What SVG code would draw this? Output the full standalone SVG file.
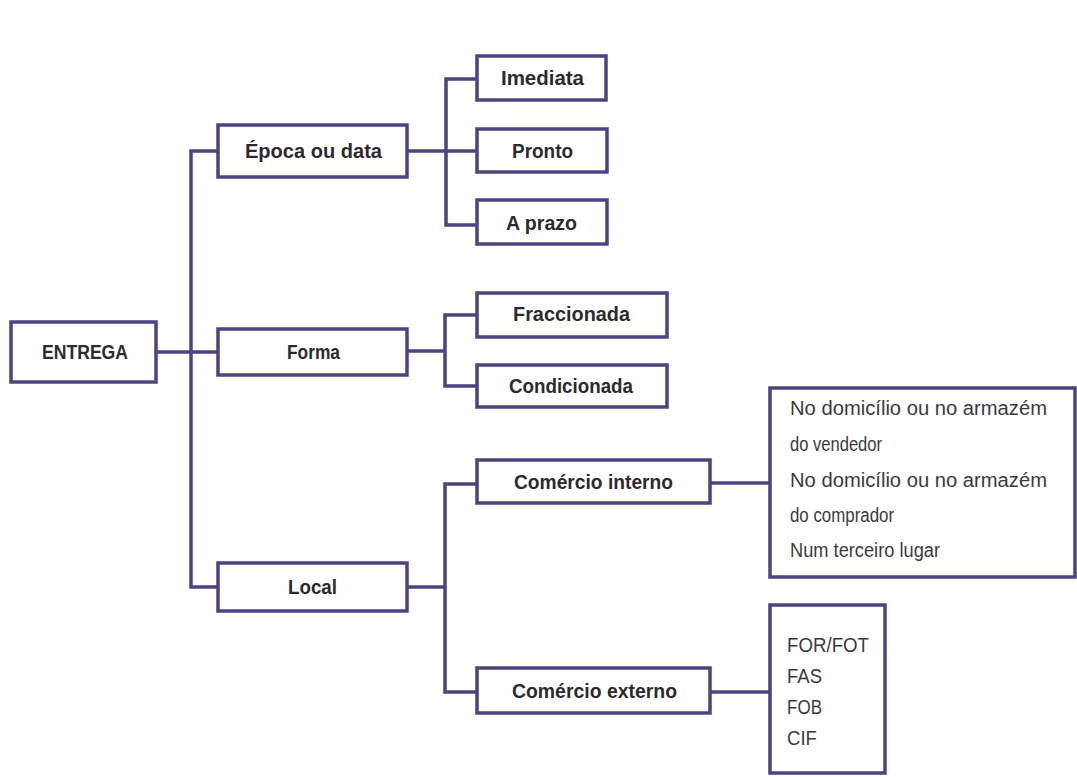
<svg xmlns="http://www.w3.org/2000/svg" width="1077" height="777" viewBox="0 0 1077 777">
  <style>
    .box { fill: #ffffff; stroke: #4b4382; stroke-width: 3.5; }
    .wire { fill: none; stroke: #4b4382; stroke-width: 3.5; }
    .lbl { font-family: "Liberation Sans", Arial, sans-serif; font-weight: bold; font-size: 21px; fill: #2b2b2e; }
    .item { font-family: "Liberation Sans", Arial, sans-serif; font-size: 20px; fill: #3a3a3d; }
  </style>
  <rect width="1077" height="777" fill="#ffffff"/>

  <!-- connectors -->
  <g id="connectors">
    <!-- root to first level -->
    <path class="wire" d="M156 352 H218"/>
    <path class="wire" d="M218 151 H191 V587 H218"/>
    <!-- Época ou data to its options -->
    <path class="wire" d="M407 151 H477"/>
    <path class="wire" d="M477 79 H446 V225 H477"/>
    <!-- Forma to its options -->
    <path class="wire" d="M407 351 H445"/>
    <path class="wire" d="M477 315 H445 V386 H477"/>
    <!-- Local to trade types -->
    <path class="wire" d="M407 587 H445"/>
    <path class="wire" d="M477 484 H445 V692 H477"/>
    <!-- trade types to detail lists -->
    <path class="wire" d="M710 483 H770"/>
    <path class="wire" d="M710 692 H770"/>
  </g>

  <g id="node-entrega">
    <rect class="box" x="11" y="322" width="145" height="60"/>
    <text class="lbl" x="42" y="359" textLength="86" lengthAdjust="spacingAndGlyphs">ENTREGA</text>
  </g>

  <g id="node-epoca">
    <rect class="box" x="218" y="125" width="189" height="52"/>
    <text class="lbl" x="245" y="158" textLength="137" lengthAdjust="spacingAndGlyphs">Época ou data</text>
  </g>

  <g id="node-forma">
    <rect class="box" x="218" y="329" width="189" height="46"/>
    <text class="lbl" x="287" y="359" textLength="53" lengthAdjust="spacingAndGlyphs">Forma</text>
  </g>

  <g id="node-local">
    <rect class="box" x="218" y="563" width="189" height="48"/>
    <text class="lbl" x="288" y="594" textLength="49" lengthAdjust="spacingAndGlyphs">Local</text>
  </g>

  <g id="node-imediata">
    <rect class="box" x="477" y="56" width="129" height="44"/>
    <text class="lbl" x="501" y="85" textLength="83" lengthAdjust="spacingAndGlyphs">Imediata</text>
  </g>

  <g id="node-pronto">
    <rect class="box" x="477" y="129" width="130" height="43"/>
    <text class="lbl" x="512" y="158" textLength="61" lengthAdjust="spacingAndGlyphs">Pronto</text>
  </g>

  <g id="node-aprazo">
    <rect class="box" x="477" y="200" width="130" height="44"/>
    <text class="lbl" x="506" y="230" textLength="71" lengthAdjust="spacingAndGlyphs">A prazo</text>
  </g>

  <g id="node-fraccionada">
    <rect class="box" x="477" y="293" width="190" height="44"/>
    <text class="lbl" x="513" y="321" textLength="117" lengthAdjust="spacingAndGlyphs">Fraccionada</text>
  </g>

  <g id="node-condicionada">
    <rect class="box" x="477" y="365" width="190" height="42"/>
    <text class="lbl" x="509" y="393" textLength="124" lengthAdjust="spacingAndGlyphs">Condicionada</text>
  </g>

  <g id="node-comercio-interno">
    <rect class="box" x="477" y="460" width="233" height="43"/>
    <text class="lbl" x="514" y="489" textLength="159" lengthAdjust="spacingAndGlyphs">Comércio interno</text>
  </g>

  <g id="node-comercio-externo">
    <rect class="box" x="477" y="668" width="233" height="45"/>
    <text class="lbl" x="512" y="698" textLength="165" lengthAdjust="spacingAndGlyphs">Comércio externo</text>
  </g>

  <g id="node-locais-internos">
    <rect class="box" x="770" y="388" width="305" height="189"/>
    <text class="item" x="790" y="415" textLength="257" lengthAdjust="spacingAndGlyphs">No domicílio ou no armazém</text>
    <text class="item" x="790" y="451" textLength="92" lengthAdjust="spacingAndGlyphs">do vendedor</text>
    <text class="item" x="790" y="487" textLength="257" lengthAdjust="spacingAndGlyphs">No domicílio ou no armazém</text>
    <text class="item" x="790" y="522" textLength="104" lengthAdjust="spacingAndGlyphs">do comprador</text>
    <text class="item" x="790" y="557" textLength="150" lengthAdjust="spacingAndGlyphs">Num terceiro lugar</text>
  </g>

  <g id="node-incoterms">
    <rect class="box" x="770" y="605" width="115" height="168"/>
    <text class="item" x="787" y="652" textLength="82" lengthAdjust="spacingAndGlyphs">FOR/FOT</text>
    <text class="item" x="787" y="683" textLength="35" lengthAdjust="spacingAndGlyphs">FAS</text>
    <text class="item" x="787" y="714" textLength="35" lengthAdjust="spacingAndGlyphs">FOB</text>
    <text class="item" x="787" y="745" textLength="30" lengthAdjust="spacingAndGlyphs">CIF</text>
  </g>
</svg>
